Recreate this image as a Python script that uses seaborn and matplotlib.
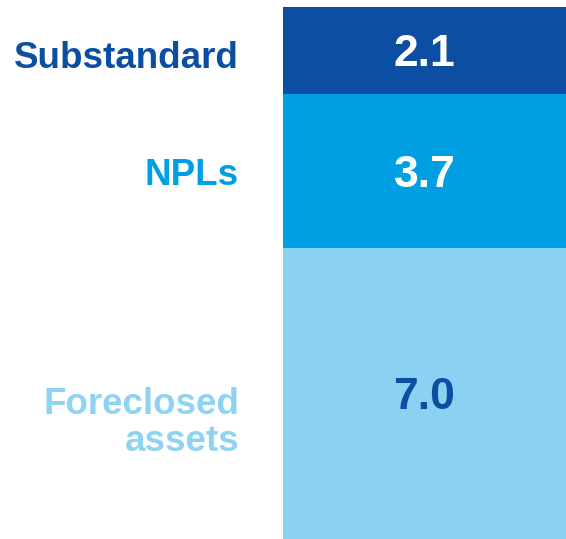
import numpy as np
import pandas as pd
import seaborn as sns
import matplotlib.pyplot as plt
import matplotlib.transforms as mtransforms

# data, bottom segment first
categories = ["Foreclosed\nassets", "NPLs", "Substandard"]
values = [7.0, 3.7, 2.1]
value_labels = ["7.0", "3.7", "2.1"]

bar_colors = ["#8AD1F2", "#009FE3", "#0B4EA2"]
value_colors = ["#0B4EA2", "white", "white"]
label_colors = ["#8FD3F3", "#009FE3", "#0B4EA2"]

sns.set_style("white")
plt.rcParams['font.family'] = ['Liberation Sans', 'DejaVu Sans']

fig = plt.figure(figsize=(5.66, 5.39), dpi=100)
ax = fig.add_axes([283 / 566, 0, 283 / 566, 532 / 539])

bottoms = np.concatenate([[0], np.cumsum(values)[:-1]])
df = pd.DataFrame({"bar": ["total"] * len(values), "value": values,
                   "bottom": bottoms, "category": categories})

for i, row in df.iterrows():
    sns.barplot(x=[row["bar"]], y=[row["value"]], bottom=row["bottom"],
                color=bar_colors[i], saturation=1, width=1, errorbar=None,
                linewidth=0, ax=ax)

ax.set_xlim(-0.5, 0.5)
ax.set_ylim(0, sum(values))
ax.axis("off")

# values inside the bar
for i, row in df.iterrows():
    ax.text(0, row["bottom"] + row["value"] / 2 - 0.1, value_labels[i],
            ha="center", va="center", fontsize=32, fontweight="bold",
            color=value_colors[i])

# category labels on the left
trans = mtransforms.blended_transform_factory(fig.transFigure, ax.transData)
offsets = [-0.7, -0.1, -0.18]
for i, row in df.iterrows():
    ax.text(239 / 566, row["bottom"] + row["value"] / 2 + offsets[i],
            row["category"], transform=trans, ha="right", va="center",
            fontsize=26.5, fontweight="bold", color=label_colors[i],
            linespacing=1.08, multialignment="right")

fig.savefig("out.png", dpi=100)
